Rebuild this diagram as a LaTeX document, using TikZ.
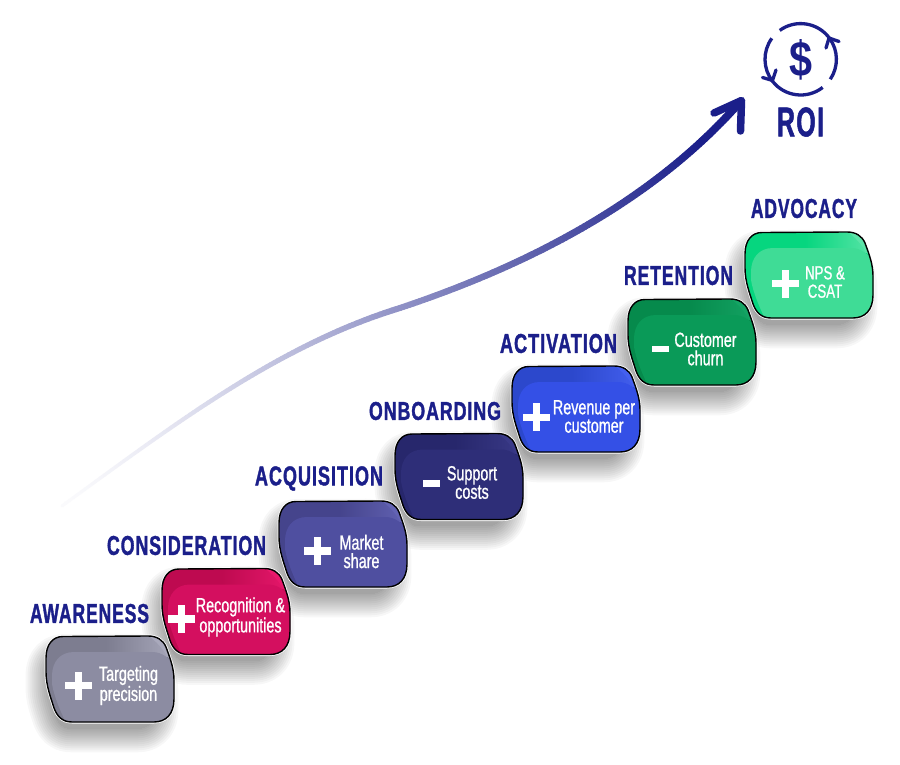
\documentclass[tikz,border=0pt]{standalone}
\usepackage{fontspec}
\usepackage{graphicx}
\setmainfont{Liberation Sans}
\newfontfamily\headfont[FakeStretch=0.72,FakeBold=1.4,LetterSpace=4]{Liberation Sans Bold}
\newfontfamily\cardfont[FakeStretch=0.70,FakeBold=0.9]{Liberation Sans}
\definecolor{roiblue}{HTML}{1B1F8A}
\newcommand{\cardpath}{(0,22) .. controls (0,8) and (7,0.5) .. (17,0.5) -- (102,0) .. controls (111,0) and (117,4) .. (120,11) .. controls (124,22) and (128,32) .. (128,44) -- (128,63) .. controls (128,78) and (120,86) .. (108,86) -- (26,86) .. controls (16,86) and (11,80) .. (8,72) .. controls (5,62) and (0,50) .. (0,36) -- cycle}
\newcommand{\stepshadow}[2]{%
  \foreach \w in {48,44,...,0}{%
    \begin{scope}[shift={(#1+64-8,#2+43+14)},scale=0.82,transparency group,opacity=0.03]
      \begin{scope}[shift={(-64,-43)}]
        \fill[black,draw=black,line width=\w pt,line join=round] \cardpath;
      \end{scope}
    \end{scope}
  }%
}
% name, x, y, outer, inner, highlight, sign, sign x, sign y
\newcommand{\stepcard}[9]{%
  \definecolor{cardA}{HTML}{#4}\definecolor{cardB}{HTML}{#5}\definecolor{cardC}{HTML}{#6}%
  \begin{scope}[shift={(#2,#3)}]
    \draw[white,line width=3pt,line join=round] \cardpath;
    \begin{scope}
      \clip \cardpath;
      \fill[cardA] (-2,-2) rectangle (130,90);
      \shade[left color=cardA,right color=cardC] (60,-2) rectangle (130,20);
      \fill[cardC] (102,-1) -- (130,-1) -- (130,30) -- (121,20) .. controls (117,13) and (111,6) .. (102,-1) -- cycle;
      \fill[cardB] (6,40) .. controls (6,26) and (14,16) .. (28,16) -- (106,16) .. controls (116,16) and (124,22) .. (130,32) -- (135,95) -- (24,95) .. controls (14,75) and (8,60) .. (6,48) -- cycle;
    \end{scope}
    \draw[black,line width=1.4pt,line join=round] \cardpath;
  \end{scope}
  \ifnum#7=1
    \fill[white] (#8-13.5,#9-3.7) rectangle (#8+13.5,#9+3.7);
    \fill[white] (#8-3.5,#9-14) rectangle (#8+3.5,#9+14);
  \else
    \fill[white] (#8-8.5,#9-3.3) rectangle (#8+8.5,#9+3.3);
  \fi
}
\newcommand{\steptext}[5]{%
  \node[white,align=center,inner sep=0pt,font=\cardfont\fontsize{#4}{18.4}\selectfont] (#1) at (#2,#3) {#5};
}
\newcommand{\stepheading}[6]{%
  \node[inner sep=0pt,text=roiblue] (#1) at ({(#2+#3)/2},{(#4+#5)/2}) {\resizebox{\dimexpr#3pt-#2pt\relax}{\dimexpr#5pt-#4pt\relax}{\headfont #6}};
}
\begin{document}
\begin{tikzpicture}[x=1pt,y=-1pt,
  declare function={bz(\t,\a,\b,\c,\d)=(1-\t)^3*\a+3*(1-\t)^2*\t*\b+3*(1-\t)*\t^2*\c+\t^3*\d;}]
\useasboundingbox (0,0) rectangle (900,765);
\fill[white] (0,0) rectangle (900,765);

% rising arrow with a fading tail
\foreach \i in {1,...,90}{%
  \pgfmathsetmacro{\ta}{(\i-1)/90}
  \pgfmathsetmacro{\tb}{\i/90}
  \pgfmathsetmacro{\pct}{2+(\tb^1.4)*46}
  \pgfmathsetmacro{\lw}{3+\tb*3}
  \draw[roiblue!\pct!white,line width=\lw pt,line cap=round]
    ({bz(\ta,62,180,280,400)},{bz(\ta,506,420,345,308)}) -- ({bz(\tb,62,180,280,400)},{bz(\tb,506,420,345,308)});
}
\foreach \i in {1,...,110}{%
  \pgfmathsetmacro{\ta}{(\i-1)/110}
  \pgfmathsetmacro{\tb}{\i/110}
  \pgfmathsetmacro{\pct}{48+min(\tb*1.15,1)*52}
  \pgfmathsetmacro{\lw}{6+\tb*1.8}
  \draw[roiblue!\pct!white,line width=\lw pt,line cap=round]
    ({bz(\ta,400,520,650,741)},{bz(\ta,308,268,205,101)}) -- ({bz(\tb,400,520,650,741)},{bz(\tb,308,268,205,101)});
}
\coordinate (barbA) at (714,113);
\coordinate (tip) at (741.5,100.5);
\coordinate (barbB) at (740.5,131);
\draw[roiblue,line width=7.5pt,line cap=round,line join=round] (barbA) -- (tip) -- (barbB);

% ROI icon
\coordinate (roic) at (800.7,59.3);
\draw[roiblue,line width=3.3pt] (roic) ++(52:35.7) arc[start angle=52,end angle=216,radius=35.7];
\draw[roiblue,line width=3.3pt] (roic) ++(234:35.7) arc[start angle=234,end angle=394,radius=35.7];
\coordinate (ra1) at (762.5,77.5);
\coordinate (ra2) at (772.5,80.5);
\coordinate (ra3) at (776,70);
\draw[roiblue,line width=3.3pt,line cap=round,line join=miter] (ra1) -- (ra2) -- (ra3);
\coordinate (rb1) at (826,48);
\coordinate (rb2) at (829,38);
\coordinate (rb3) at (839,41.5);
\draw[roiblue,line width=3.3pt,line cap=round,line join=miter] (rb1) -- (rb2) -- (rb3);
\node[inner sep=0pt,text=roiblue] (dollar) at (800.7,59.5) {\resizebox{23pt}{37pt}{\bfseries \$}};
\node[inner sep=0pt,text=roiblue] (roi) at (800.5,122) {\resizebox{47pt}{29pt}{\headfont ROI}};

% shadows first
\stepshadow{46}{636}
\stepshadow{162}{568.5}
\stepshadow{279}{501}
\stepshadow{395}{433.5}
\stepshadow{512}{366}
\stepshadow{628}{299}
\stepshadow{745}{232}

% cards
\stepcard{c1}{46}{636}{7D7D90}{8C8CA2}{A9A9BC}{1}{78.7}{685.7}
\stepcard{c2}{162}{568.5}{BE0A50}{D40F5F}{E8186C}{1}{181}{619}
\stepcard{c3}{279}{501}{45448C}{4F4FA0}{6363B4}{1}{317}{551}
\stepcard{c4}{395}{433.5}{27276C}{2E2E78}{3A3A88}{0}{431.7}{483.7}
\stepcard{c5}{512}{366}{2C48CC}{3450E6}{4460F0}{1}{536.7}{417.3}
\stepcard{c6}{628}{299}{068A4C}{0A9A58}{14A464}{0}{660}{349}
\stepcard{c7}{745}{232}{06D67F}{3FDC96}{5CE4A8}{1}{785}{283.7}

\steptext{t1}{128.5}{685.5}{20.5}{Targeting\\precision}
\steptext{t2}{240.5}{617}{20.5}{Recognition \&\\opportunities}
\steptext{t3}{361.5}{551.5}{20.5}{Market\\share}
\steptext{t4}{472}{482.5}{20.5}{Support\\costs}
\steptext{t5}{594}{416.5}{20.5}{Revenue per\\customer}
\steptext{t6}{705.5}{349}{20.5}{Customer\\churn}
\steptext{t7}{825}{282}{19}{NPS \&\\CSAT}

% headings
\stepheading{h1}{30}{149}{604}{623}{AWARENESS}
\stepheading{h2}{107}{266}{536}{555}{CONSIDERATION}
\stepheading{h3}{255}{383}{469}{488}{ACQUISITION}
\stepheading{h4}{369}{501}{402}{420}{ONBOARDING}
\stepheading{h5}{500}{617}{334}{353}{ACTIVATION}
\stepheading{h6}{624}{733}{266}{285}{RETENTION}
\stepheading{h7}{751}{857}{199}{218}{ADVOCACY}
\end{tikzpicture}
\end{document}
